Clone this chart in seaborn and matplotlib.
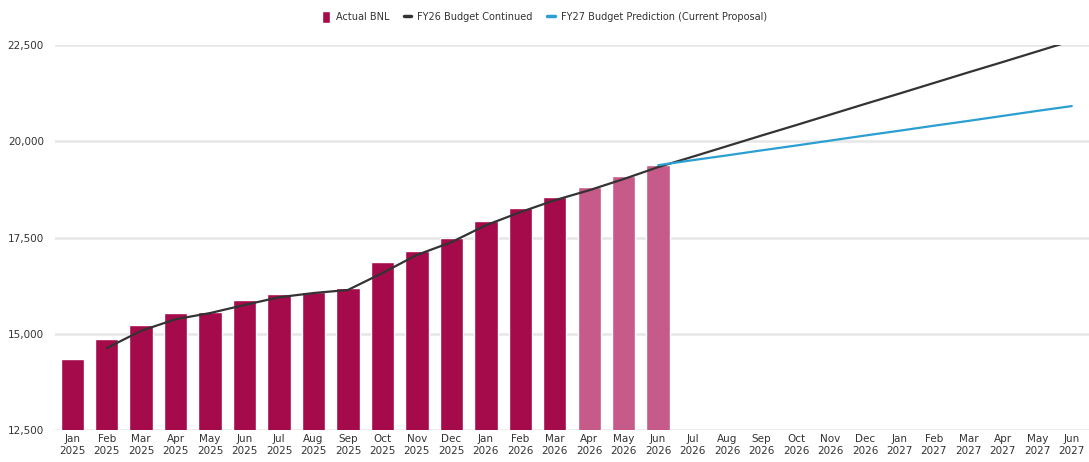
import seaborn as sns
import matplotlib.pyplot as plt
import pandas as pd
import numpy as np
from matplotlib.lines import Line2D
from matplotlib.patches import Patch

# months on the x axis
months = ['Jan\n2025', 'Feb\n2025', 'Mar\n2025', 'Apr\n2025', 'May\n2025', 'Jun\n2025',
          'Jul\n2025', 'Aug\n2025', 'Sep\n2025', 'Oct\n2025', 'Nov\n2025', 'Dec\n2025',
          'Jan\n2026', 'Feb\n2026', 'Mar\n2026', 'Apr\n2026', 'May\n2026', 'Jun\n2026',
          'Jul\n2026', 'Aug\n2026', 'Sep\n2026', 'Oct\n2026', 'Nov\n2026', 'Dec\n2026',
          'Jan\n2027', 'Feb\n2027', 'Mar\n2027', 'Apr\n2027', 'May\n2027', 'Jun\n2027']

# actual BNL bars (Jan 2025 - Jun 2026), last three are lighter
bnl_months = months[:18]
bnl = [14350, 14860, 15230, 15540, 15570, 15880, 16030, 16080, 16190, 16860,
       17150, 17490, 17930, 18270, 18550, 18810, 19100, 19380]
bnl_kind = ['actual'] * 15 + ['recent'] * 3

# FY26 budget continued (Feb 2025 - Jun 2027)
fy26_months = months[1:]
fy26 = [14630, 15080, 15380, 15540, 15750, 15950, 16060, 16140, 16580, 17050,
        17380, 17820, 18160, 18470, 18730, 19020, 19330,
        19600, 19875, 20150, 20420, 20695, 20970, 21240, 21515, 21790, 22060, 22335, 22610]

# FY27 budget prediction (Jun 2026 - Jun 2027)
fy27_months = months[17:]
fy27 = [19380, 19510, 19635, 19765, 19890, 20020, 20150, 20275, 20405, 20530, 20660, 20790, 20915]

bar_dark = '#a50b4b'
bar_light = '#c65a88'
line_black = '#333333'
line_blue = '#2b9fd1'

sns.set_style('white')
plt.rcParams['font.family'] = ['DejaVu Sans']

fig = plt.figure(figsize=(10.89, 4.62), dpi=100)
ax = fig.add_axes([0.0505, 0.069, 0.9495, 0.8335])

df = pd.DataFrame({'month': bnl_months, 'value': bnl, 'kind': bnl_kind})
sns.barplot(data=df, x='month', y='value', hue='kind', order=months,
            palette={'actual': bar_dark, 'recent': bar_light}, saturation=1,
            dodge=False, width=0.68, legend=False, ax=ax, zorder=2)

pos = {m: i for i, m in enumerate(months)}
sns.lineplot(x=[pos[m] for m in fy26_months], y=fy26, color=line_black, lw=1.6, ax=ax, zorder=3)
sns.lineplot(x=[pos[m] for m in fy27_months], y=fy27, color=line_blue, lw=1.6, ax=ax, zorder=3)

ax.set_xlim(-0.5, 29.5)
ax.set_ylim(12500, 22500)
ax.set_yticks([12500, 15000, 17500, 20000, 22500])
ax.set_yticklabels(['12,500', '15,000', '17,500', '20,000', '22,500'])
ax.yaxis.grid(True, color='#e6e6e6', lw=1.8, zorder=0)
ax.set_axisbelow(True)
for s in ax.spines.values():
    s.set_visible(False)
ax.tick_params(axis='both', length=0, labelsize=7.5, colors='#333333')
ax.tick_params(axis='y', pad=8)
ax.tick_params(axis='x', pad=3)
ax.set_xlabel('')
ax.set_ylabel('')

handles = [Patch(facecolor=bar_dark, label='Actual BNL'),
           Line2D([0], [0], color=line_black, lw=2.5, label='FY26 Budget Continued'),
           Line2D([0], [0], color=line_blue, lw=2.5, label='FY27 Budget Prediction (Current Proposal)')]
fig.legend(handles=handles, loc='center', bbox_to_anchor=(0.5, 0.963), ncol=3, frameon=False,
           fontsize=7, handlelength=0.8, handleheight=1.4, columnspacing=1.5, handletextpad=0.6,
           labelcolor='#333333')

fig.savefig('out.png', dpi=100)
